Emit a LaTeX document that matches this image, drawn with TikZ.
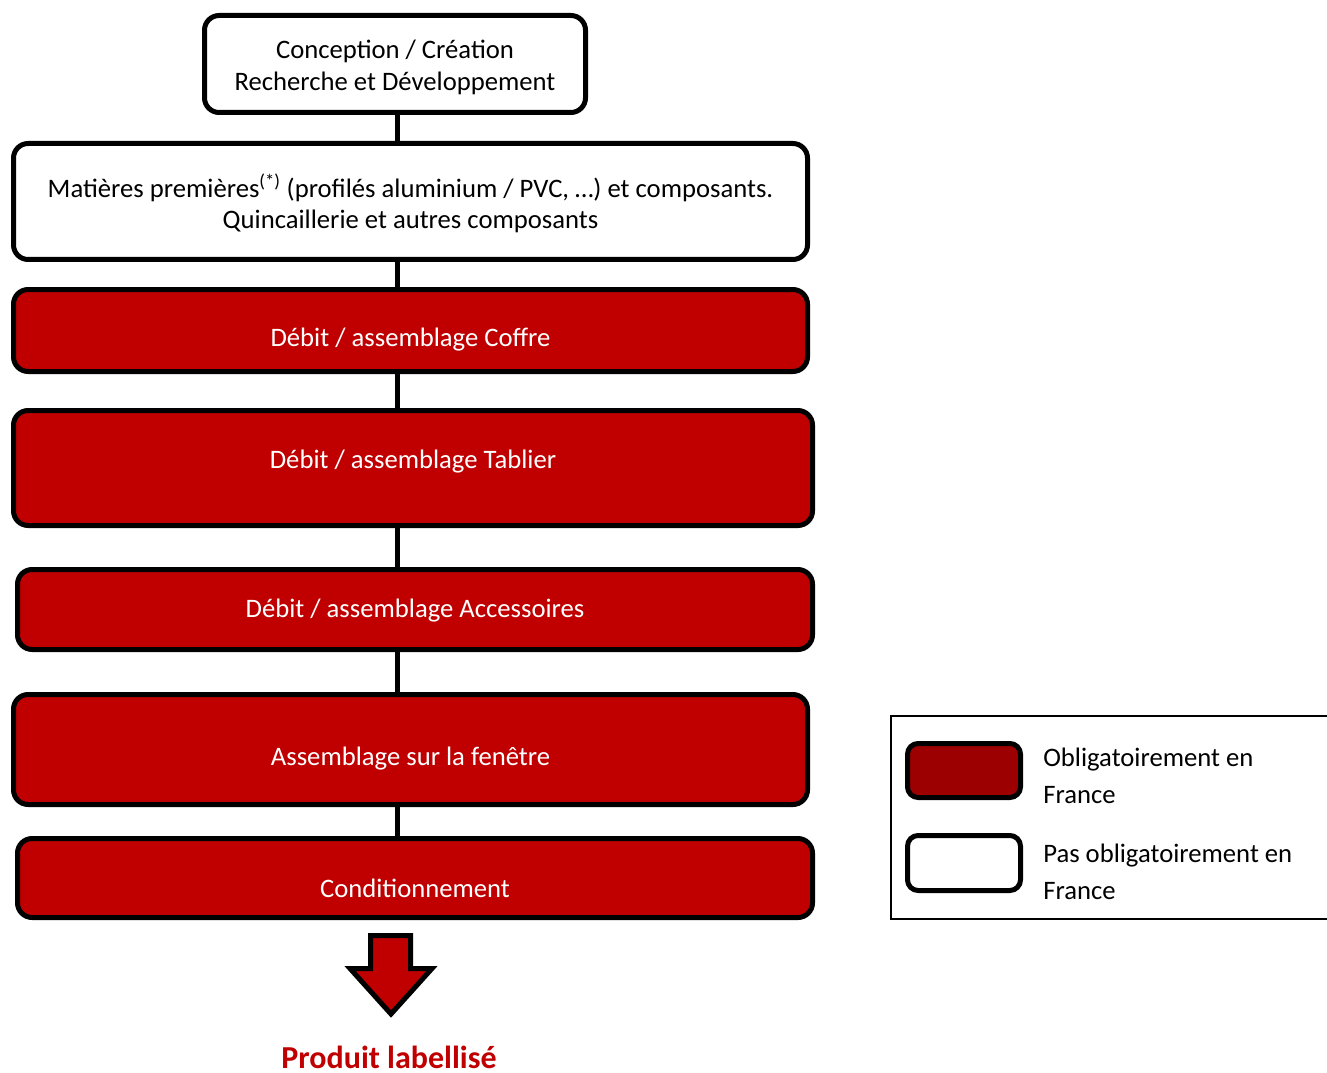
\documentclass[tikz,border=0pt]{standalone}
\usepackage{fontspec}
\setmainfont{Carlito}
\definecolor{boxred}{HTML}{C00000}
\definecolor{legred}{HTML}{9C0000}
\begin{document}
\begin{tikzpicture}[x=0.75pt,y=-0.75pt,
  base/.style={draw=black,line width=3.75pt,rounded corners=11pt,inner sep=0pt,minimum width=#1},
  whitebox/.style={base=#1,fill=white},
  redbox/.style={base=#1,fill=boxred},
  btxt/.style={font=\fontsize{20}{24}\selectfont,text=black,align=center,inner sep=0pt},
  wtxt/.style={font=\fontsize{20}{24}\selectfont,text=white,align=center,inner sep=0pt},
  conn/.style={line width=3.75pt},
  legtxt/.style={font=\fontsize{20}{27.75}\selectfont,align=left,anchor=west,inner sep=0pt}]
\useasboundingbox (0,0) rectangle (1327,1073);
\coordinate (spine) at (397,0);
% boxes
\node[whitebox={381*0.75pt},minimum height={97*0.75pt}] (concept) at (395,64) {};
\node[whitebox={794*0.75pt},minimum height={116*0.75pt}] (mat) at (410.5,201.5) {};
\node[redbox={794*0.75pt},minimum height={82*0.75pt}] (coffre) at (410.5,330.5) {};
\node[redbox={799*0.75pt},minimum height={115*0.75pt}] (tablier) at (413,468) {};
\node[redbox={795*0.75pt},minimum height={80*0.75pt}] (access) at (415,609.5) {};
\node[redbox={794*0.75pt},minimum height={110*0.75pt}] (assemb) at (410.5,749.5) {};
\node[redbox={795*0.75pt},minimum height={79*0.75pt}] (condit) at (415,878) {};
% connectors
\draw[conn] (concept.south -| spine) -- (mat.north -| spine);
\draw[conn] (mat.south -| spine) -- (coffre.north -| spine);
\draw[conn] (coffre.south -| spine) -- (tablier.north -| spine);
\draw[conn] (tablier.south -| spine) -- (access.north -| spine);
\draw[conn] (access.south -| spine) -- (assemb.north -| spine);
\draw[conn] (assemb.south -| spine) -- (condit.north -| spine);
% texts
\node[btxt] (tconcept1) at (395,51) {Conception / Création};
\node[btxt] (tconcept2) at (395,83) {Recherche et Développement};
\node[btxt] (tmat1) at (410.5,188) {Matières premières\textsuperscript{(*)} (profilés aluminium / PVC, …) et composants.};
\node[btxt] (tmat2) at (410.5,221) {Quincaillerie et autres composants};
\node[wtxt] (tcoffre) at (410.5,340) {Débit / assemblage Coffre};
\node[wtxt] (ttablier) at (413,462) {Débit / assemblage Tablier};
\node[wtxt] (taccess) at (415,611) {Débit / assemblage Accessoires};
\node[wtxt] (tassemb) at (410.5,759) {Assemblage sur la fenêtre};
\node[wtxt] (tcondit) at (415,888) {Conditionnement};
% big arrow
\draw[line width=3.75pt,line join=miter,fill=boxred]
  (370.5,935.5) -- (410.5,935.5) -- (410.5,968.5) -- (432,968.5) -- (391,1014)
  -- (350,968.5) -- (370.5,968.5) -- cycle;
\node[font=\fontsize{24}{28}\selectfont\bfseries,text=boxred,inner sep=0pt] (produit) at (389,1057) {Produit labellisé};
% legend
\draw[line width=1.5pt] (891,716) rectangle (1340,919);
\node[base={113*0.75pt},fill=legred,minimum height={54*0.75pt},rounded corners=8pt] (legA) at (964,770.5) {};
\node[base={113*0.75pt},fill=white,minimum height={55*0.75pt},rounded corners=8pt] (legB) at (964,863) {};
\begin{scope}
\clip (1030,730) rectangle (1330,803);
\node[legtxt] (legAtxt) at (1043,776) {Obligatoirement en\\France};
\end{scope}
\node[legtxt] (legBtxt) at (1043,871.5) {Pas obligatoirement en\\France};
\end{tikzpicture}
\end{document}
